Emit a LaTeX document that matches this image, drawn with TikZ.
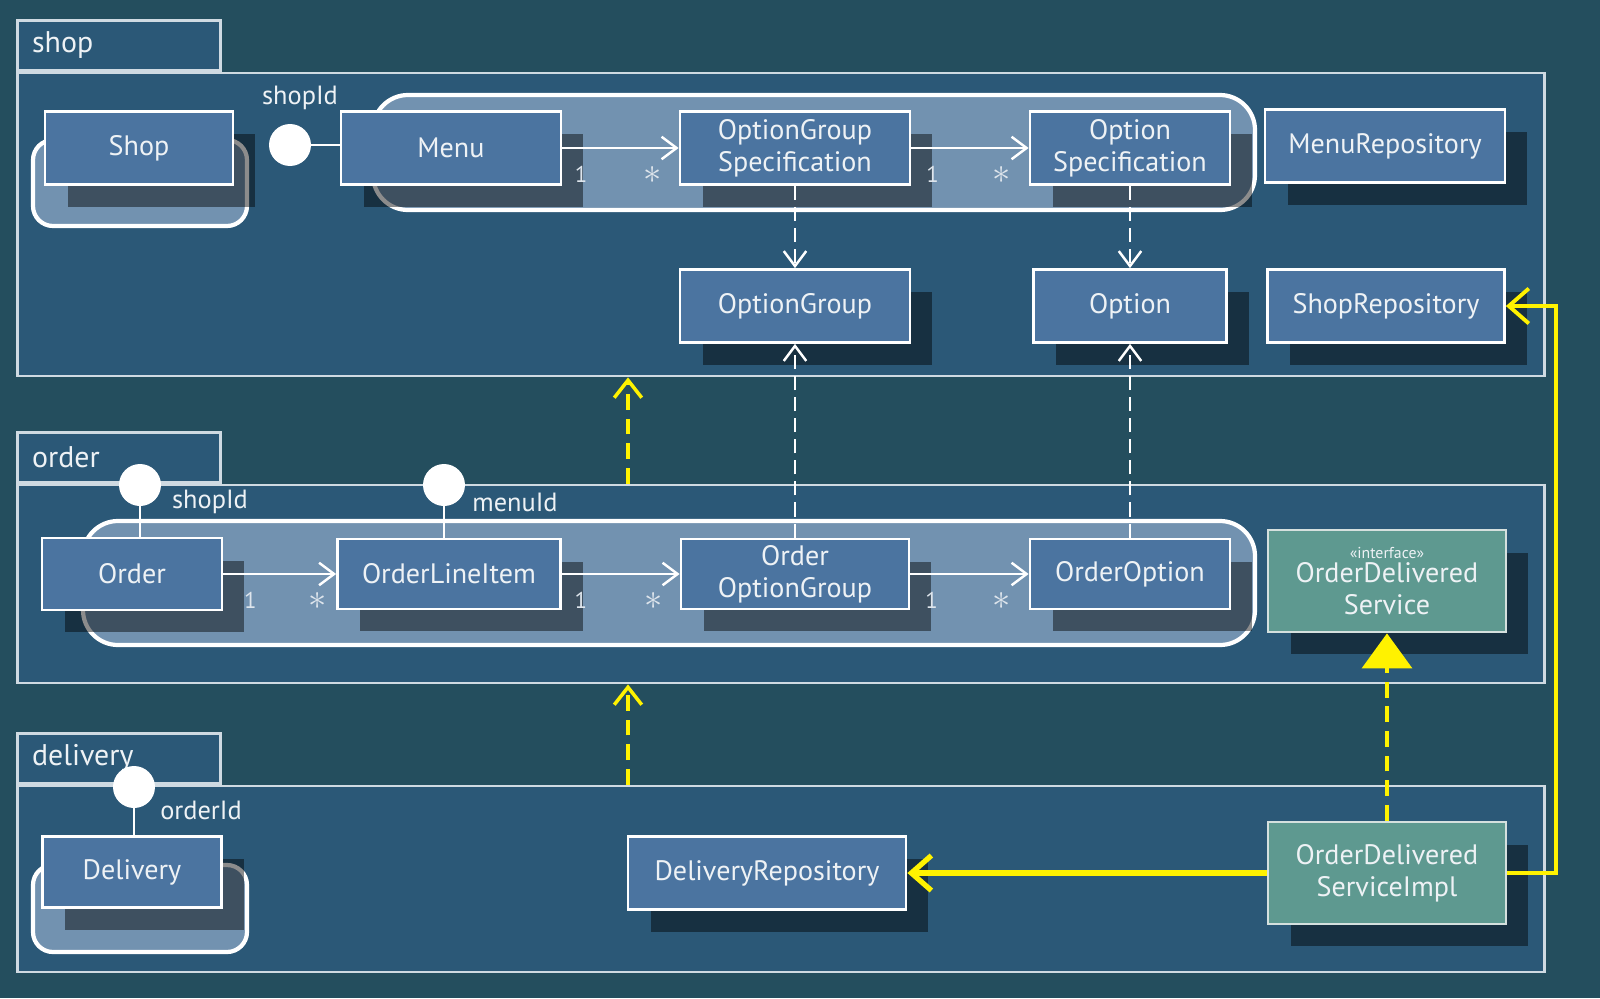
\documentclass[tikz,border=0pt]{standalone}
\usepackage{fontspec}
\setmainfont{PT Sans}
\usetikzlibrary{arrows.meta,shadows,positioning}
\definecolor{bgcol}{HTML}{244E5E}
\definecolor{pkgcol}{HTML}{2B5877}
\definecolor{pkgline}{HTML}{CFDAE2}
\definecolor{boxcol}{HTML}{4B74A0}
\definecolor{aggcol}{HTML}{8AA6C4}
\definecolor{grncol}{HTML}{5E9990}
\definecolor{grnline}{HTML}{D5E0DE}
\definecolor{ylw}{HTML}{FFF200}
\definecolor{txtcol}{HTML}{EEF2F5}
\begin{document}
\begin{tikzpicture}[x=0.02cm,y=-0.02cm,
    pkg/.style={draw=pkgline,fill=pkgcol,line width=1.6pt},
    pkgtab/.style={pkg,anchor=south west,minimum height=1cm,text width=3.46cm,inner xsep=0.3cm,align=left,text=txtcol,font=\fontsize{17}{19}\selectfont},
    agg/.style={draw=white,fill=aggcol,fill opacity=0.75,line width=2.4pt,rounded corners=0.7cm},
    cls/.style={draw=white,fill=boxcol,line width=1.6pt,minimum height=1.46cm,text=txtcol,align=center,font=\fontsize{16}{18}\selectfont,drop shadow={shadow xshift=0.45cm,shadow yshift=-0.45cm,fill=black,opacity=0.45}},
    svc/.style={cls,fill=grncol,draw=grnline,minimum height=2.04cm},
    ball/.style={circle,fill=white,minimum size=0.84cm,inner sep=0pt},
    stick/.style={white,line width=1.6pt},
    lbl/.style={text=txtcol,font=\fontsize{15}{17}\selectfont,inner sep=0pt},
    mult/.style={text=txtcol!90!boxcol,font=\fontsize{13}{14}\selectfont},
    many/.style={mult,font=\fontsize{21}{21}\selectfont},
    assoc/.style={white,line width=1.4pt,-{Straight Barb[length=0.3cm,width=0.45cm]}},
    dep/.style={assoc,dash pattern=on 8pt off 4pt},
    ydep/.style={ylw,line width=2pt,dash pattern=on 9pt off 5pt,-{Straight Barb[length=0.35cm,width=0.55cm]}},
    yreal/.style={ylw,line width=2pt,dash pattern=on 9pt off 5pt,-{Triangle[length=0.7cm,width=1cm]}},
    yuse/.style={ylw,line width=2.2pt,-{Straight Barb[length=0.4cm,width=0.7cm]}}]
  \useasboundingbox (0,0) rectangle (1600,998);
  \fill[bgcol] (0,0) rectangle (1600,998);

  \node[pkg,minimum width=30.56cm,minimum height=6.06cm] (shopPkg) at (781,224.5) {};
  \node[pkgtab] (shopTab) at (shopPkg.north west) {shop};
  \node[pkg,minimum width=30.56cm,minimum height=3.96cm] (orderPkg) at (781,584) {};
  \node[pkgtab] (orderTab) at (orderPkg.north west) {order};
  \node[pkg,minimum width=30.56cm,minimum height=3.72cm] (delivPkg) at (781,879) {};
  \node[pkgtab] (delivTab) at (delivPkg.north west) {delivery};

  \draw[agg,rounded corners=0.4cm] (33,140) rectangle (247,226);
  \draw[agg] (373,95) rectangle (1255,210);
  \draw[agg] (83,521) rectangle (1255,645);
  \draw[agg,rounded corners=0.4cm] (33,865) rectangle (247,952);

  \node[cls,minimum width=3.76cm] (shop) at (139,148) {Shop};
  \node[cls,minimum width=4.4cm] (menu) at (451,148) {Menu};
  \node[cls,minimum width=4.6cm] (optGrpSpec) at (795,148) {OptionGroup\\Specification};
  \node[cls,minimum width=4cm] (optSpec) at (1130,148) {Option\\Specification};
  \node[cls,minimum width=4.8cm] (menuRepo) at (1385,146) {MenuRepository};
  \node[cls,minimum width=4.6cm] (optGrp) at (795,306) {OptionGroup};
  \node[cls,minimum width=3.86cm] (opt) at (1130,306) {Option};
  \node[cls,minimum width=4.74cm] (shopRepo) at (1386,306) {ShopRepository};

  \node[cls,minimum width=3.6cm,minimum height=1.44cm] (order) at (132,574) {Order};
  \node[cls,minimum width=4.46cm,minimum height=1.4cm] (lineItem) at (449,574) {OrderLineItem};
  \node[cls,minimum width=4.56cm,minimum height=1.4cm] (ordOptGrp) at (795,574) {Order\\OptionGroup};
  \node[cls,minimum width=4cm,minimum height=1.4cm] (ordOpt) at (1130,574) {OrderOption};
  \node[svc,minimum width=4.76cm] (delivSvc) at (1387,581) {{\fontsize{9}{10}\selectfont «interface»}\\[-4pt]OrderDelivered\\Service};

  \node[cls,minimum width=3.58cm,minimum height=1.42cm] (delivery) at (132,872) {Delivery};
  \node[cls,minimum width=5.56cm] (delivRepo) at (767,873) {DeliveryRepository};
  \node[svc,minimum width=4.76cm] (delivSvcImpl) at (1387,873) {OrderDelivered\\ServiceImpl};

  \node[ball] (shopIdBall) at (290,145) {};
  \node[lbl] (shopIdTxt) at (300,98) {shopId};
  \node[ball] (ordShopBall) at (140,485) {};
  \node[lbl] (ordShopTxt) at (210,502) {shopId};
  \node[ball] (menuIdBall) at (444,485) {};
  \node[lbl] (menuIdTxt) at (515,502) {menuId};
  \node[ball] (orderIdBall) at (134,787) {};
  \node[lbl] (orderIdTxt) at (201,810) {orderId};
  \draw[stick] (shopIdBall) -- (shopIdBall -| menu.west);
  \draw[stick] (ordShopBall) -- (ordShopBall |- order.north);
  \draw[stick] (menuIdBall) -- (menuIdBall |- lineItem.north);
  \draw[stick] (orderIdBall) -- (orderIdBall |- delivery.north);

  \draw[assoc] (menu) -- node[mult,pos=0.16,below=0.22cm] (m1) {1} node[many,pos=0.78,below=0.22cm] (m2) {$\ast$} (optGrpSpec);
  \draw[assoc] (optGrpSpec) -- node[mult,pos=0.18,below=0.22cm] (m3) {1} node[many,pos=0.77,below=0.22cm] (m4) {$\ast$} (optSpec);
  \draw[assoc] (order) -- node[mult,pos=0.24,below=0.22cm] (m5) {1} node[many,pos=0.84,below=0.22cm] (m6) {$\ast$} (lineItem);
  \draw[assoc] (lineItem) -- node[mult,pos=0.16,below=0.22cm] (m7) {1} node[many,pos=0.78,below=0.22cm] (m8) {$\ast$} (ordOptGrp);
  \draw[assoc] (ordOptGrp) -- node[mult,pos=0.18,below=0.22cm] (m9) {1} node[many,pos=0.77,below=0.22cm] (m10) {$\ast$} (ordOpt);

  \draw[dep] (optGrpSpec) -- (optGrp);
  \draw[dep] (optSpec) -- (opt);
  \draw[dep] (ordOptGrp) -- (optGrp);
  \draw[dep] (ordOpt) -- (opt);

  \coordinate (depX) at (628,0);
  \draw[ydep] (orderPkg.north -| depX) -- (shopPkg.south -| depX);
  \draw[ydep] (delivPkg.north -| depX) -- (orderPkg.south -| depX);
  \draw[yreal] (delivSvcImpl) -- (delivSvc);
  \draw[yuse,line width=3pt] (delivSvcImpl) -- (delivRepo);
  \draw[yuse] (delivSvcImpl.east) -- ++(49,0) |- (shopRepo.east);
\end{tikzpicture}
\end{document}
